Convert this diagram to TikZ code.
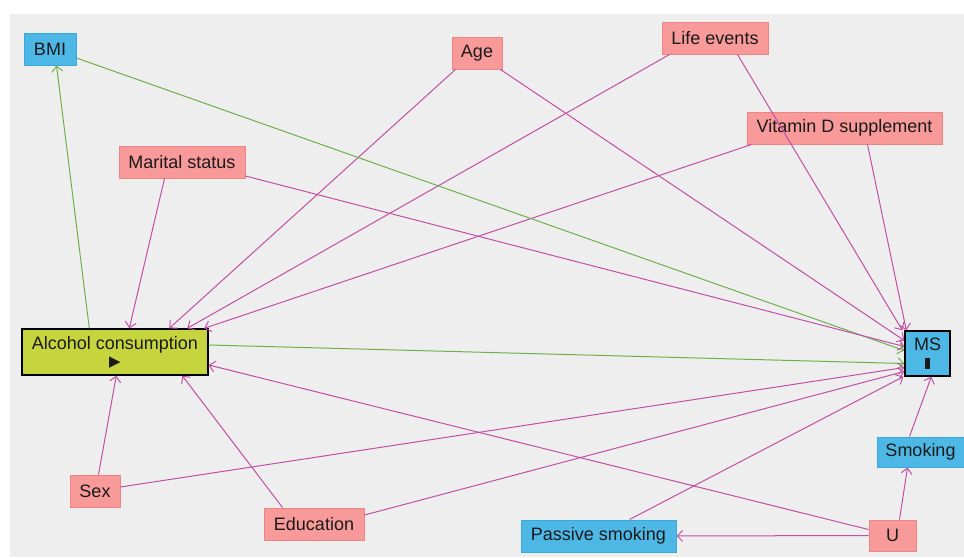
\documentclass[tikz,border=0pt]{standalone}
\usepackage{fontspec}
\setmainfont{Liberation Sans}
\newfontfamily\dejavu{DejaVu Sans}
\usetikzlibrary{arrows.meta}
\definecolor{bg}{HTML}{EEEEEE}
\definecolor{pinkfill}{HTML}{F89A9A}
\definecolor{pinkdraw}{HTML}{EE8585}
\definecolor{bluefill}{HTML}{4DB8E6}
\definecolor{bluedraw}{HTML}{3AA8D8}
\definecolor{alcfill}{HTML}{C6D43E}
\definecolor{edgemag}{HTML}{C24FA6}
\definecolor{edgegreen}{HTML}{6DB04A}
\definecolor{txt}{HTML}{1A1A1A}
\begin{document}
\begin{tikzpicture}[x=1pt,y=-1pt,
  box/.style={rectangle, inner sep=0pt, line width=1pt, font=\fontsize{18}{20}\selectfont, text=txt, align=center},
  adj/.style={box, fill=pinkfill, draw=pinkdraw},
  obs/.style={box, fill=bluefill, draw=bluedraw},
  mag/.style={draw=edgemag, line width=1pt, -{Straight Barb[length=5.5pt,width=11pt]}},
  grn/.style={mag, draw=edgegreen}]
\useasboundingbox (0,0) rectangle (964,557);
\fill[bg] (10,14) rectangle (964,557);
% nodes
\node[obs, minimum width=52pt, minimum height=32pt] (bmi) at (50,49) {BMI};
\node[adj, minimum width=50pt, minimum height=32pt] (age) at (477,53) {Age};
\node[adj, minimum width=106pt, minimum height=32pt] (life) at (715,38) {Life events};
\node[adj, minimum width=195pt, minimum height=32pt] (vit) at (844.5,128) {Vitamin D supplement};
\node[adj, minimum width=126pt, minimum height=32pt] (mar) at (182,162) {Marital status};
\node[box, fill=alcfill, draw=black, line width=1.4pt, minimum width=186pt, minimum height=46pt] (alc) at (115,352)
  {Alcohol consumption\\[-3pt]{\dejavu\fontsize{15}{15}\selectfont ▶}};
\node[box, fill=bluefill, draw=black, line width=1.4pt, minimum width=45pt, minimum height=45pt] (ms) at (927.5,353.5)
  {MS\\[-2pt]\rule{5pt}{11pt}};
\node[obs, minimum width=87pt, minimum height=30pt] (smo) at (920.5,452) {Smoking};
\node[adj, minimum width=50pt, minimum height=32pt] (sex) at (95,491) {Sex};
\node[adj, minimum width=100pt, minimum height=32pt] (edu) at (314,524) {Education};
\node[obs, minimum width=155pt, minimum height=32pt] (pas) at (598.5,536) {Passive smoking};
\node[adj, minimum width=47pt, minimum height=31pt] (u) at (892.5,535.5) {U};
% edges into alcohol consumption
\draw[mag] ([xshift=46pt]mar.south west) -- ([xshift=108pt]alc.north west);
\draw[mag] ([xshift=4pt]age.south west) -- ([xshift=148pt]alc.north west);
\draw[mag] ([xshift=8pt]life.south west) -- ([xshift=166pt]alc.north west);
\draw[mag] ([xshift=5pt]vit.south west) -- ([xshift=183pt]alc.north west);
\draw[mag] ([xshift=29pt]sex.north west) -- ([xshift=95pt]alc.south west);
\draw[mag] ([xshift=19pt]edu.north west) -- ([xshift=161pt]alc.south west);
\draw[mag] ([yshift=6pt]u.west) -- ([yshift=-13pt]alc.east);
% green paths
\draw[grn] ([xshift=68pt]alc.north west) -- ([xshift=33pt]bmi.south west);
\draw[grn] ([yshift=7pt]alc.east) -- ([yshift=-10pt]ms.west);
\draw[grn] ([yshift=-9pt]bmi.east) -- ([yshift=3pt]ms.west);
% edges into MS
\draw[mag] ([yshift=-14pt]mar.east) -- ([yshift=7pt]ms.west);
\draw[mag] ([xshift=-2pt]age.south east) -- ([yshift=13pt]ms.west);
\draw[mag] ([xshift=76pt]life.south west) -- ([xshift=-2pt]ms.north west);
\draw[mag] ([xshift=121pt]vit.south west) -- ([xshift=2pt]ms.north west);
\draw[mag] ([yshift=4pt]sex.east) -- ([yshift=-14pt]ms.west);
\draw[mag] ([yshift=9pt]edu.east) -- ([yshift=-18pt]ms.west);
\draw[mag] ([xshift=109pt]pas.north west) -- ([xshift=-1pt]ms.south west);
\draw[mag] ([xshift=33pt]smo.north west) -- ([xshift=27pt]ms.south west);
% from U
\draw[mag] ([xshift=31pt]u.north west) -- ([xshift=31pt]smo.south west);
\draw[mag] (u.west) -- (pas.east);
\end{tikzpicture}
\end{document}
